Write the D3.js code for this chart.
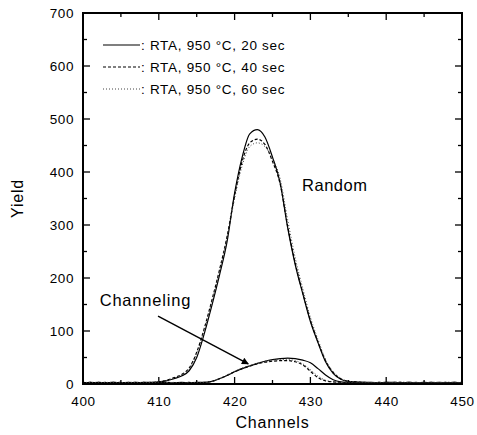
<!DOCTYPE html>
<html>
<head>
<meta charset="utf-8">
<script src="https://cdn.jsdelivr.net/npm/d3@7"></script>
<style>
  body { margin: 0; background: #fff; }
  text { font-family: "Liberation Sans", Arial, sans-serif; fill: #000; }
</style>
</head>
<body>
<div class="root"></div>
<script>
const width = 477;
const height = 435;
const margin = { top: 13, right: 15, bottom: 51, left: 83 };

const channels = [400, 401, 402, 403, 404, 405, 406, 407, 408, 409,
  410, 411, 412, 413, 414, 415, 416, 417, 418, 419,
  420, 421, 422, 423, 424, 425, 426, 427, 428, 429,
  430, 431, 432, 433, 434, 435, 436, 437, 438, 439,
  440, 441, 442, 443, 444, 445, 446, 447, 448, 449, 450];

// random spectra
const random20 = [3, 2, 3, 2, 3, 2, 3, 2, 3, 3,
  4, 6, 10, 15, 25, 50, 95, 148, 205, 268,
  360, 428, 472, 480, 466, 428, 380, 295, 225, 170,
  118, 78, 42, 20, 9, 5, 4, 3, 3, 2,
  3, 3, 2, 3, 2, 3, 2, 3, 2, 3, 2];
const random40 = [2, 3, 2, 3, 2, 3, 2, 3, 2, 3,
  4, 7, 12, 18, 30, 60, 105, 158, 215, 278,
  355, 420, 455, 462, 452, 420, 378, 298, 228, 172,
  120, 80, 44, 22, 10, 5, 4, 3, 2, 3,
  2, 3, 3, 2, 3, 2, 3, 2, 3, 2, 3];
const random60 = [3, 3, 2, 3, 3, 2, 3, 3, 2, 3,
  4, 7, 11, 17, 28, 58, 102, 155, 212, 275,
  350, 412, 448, 455, 448, 425, 388, 310, 238, 180,
  126, 84, 46, 23, 11, 5, 4, 3, 3, 3,
  2, 3, 2, 3, 3, 2, 3, 3, 2, 3, 3];

// channeling spectra
const chan20 = [2, 3, 2, 2, 3, 2, 2, 3, 2, 2,
  3, 2, 2, 3, 2, 3, 3, 5, 10, 16,
  23, 29, 34, 39, 43, 46, 48, 49, 48, 45,
  40, 29, 17, 8, 4, 3, 2, 3, 2, 2,
  3, 2, 2, 3, 2, 2, 3, 2, 2, 3, 2];
const chan40 = [2, 2, 3, 2, 2, 3, 2, 2, 3, 2,
  2, 3, 2, 2, 3, 2, 3, 5, 10, 16,
  23, 29, 34, 38, 41, 43, 44, 44, 42, 36,
  24, 12, 6, 4, 3, 2, 3, 2, 2, 3,
  2, 2, 3, 2, 2, 3, 2, 2, 3, 2, 2];
const chan60 = [3, 2, 2, 3, 2, 2, 3, 2, 2, 3,
  2, 2, 3, 2, 2, 3, 3, 5, 10, 17,
  24, 30, 35, 39, 43, 45, 46, 46, 44, 38,
  27, 15, 7, 4, 3, 3, 2, 2, 3, 2,
  2, 3, 2, 2, 3, 2, 2, 3, 2, 2, 3];

const xTicks = [400, 410, 420, 430, 440, 450];
const yTicks = [0, 100, 200, 300, 400, 500, 600, 700];
const legendLabels = [": RTA, 950 \u00B0C, 20 sec", ": RTA, 950 \u00B0C, 40 sec", ": RTA, 950 \u00B0C, 60 sec"];

const styles = [
  { dash: null, w: 1.2, color: "#000" },
  { dash: "3,2", w: 1.2, color: "#000" },
  { dash: "1,2", w: 1, color: "#444" },
];

const svg = d3.select(".root").append("svg")
  .attr("width", width)
  .attr("height", height);

const iw = width - margin.left - margin.right;
const ih = height - margin.top - margin.bottom;
const g = svg.append("g").attr("transform", `translate(${margin.left},${margin.top})`);

const x = d3.scaleLinear().domain([400, 450]).range([0, iw]);
const y = d3.scaleLinear().domain([0, 700]).range([ih, 0]);

// ticks, inward on all sides
const xMinor = d3.range(400, 451, 5);
const yMinor = d3.range(0, 701, 50);
xMinor.forEach((v) => {
  const len = v % 10 === 0 ? 7 : 4;
  g.append("line").attr("x1", x(v)).attr("x2", x(v)).attr("y1", ih).attr("y2", ih - len).attr("stroke", "#000").attr("stroke-width", 1.3);
  g.append("line").attr("x1", x(v)).attr("x2", x(v)).attr("y1", 0).attr("y2", len).attr("stroke", "#000").attr("stroke-width", 1.3);
});
yMinor.forEach((v) => {
  const len = v % 100 === 0 ? 7 : 4;
  g.append("line").attr("x1", 0).attr("x2", len).attr("y1", y(v)).attr("y2", y(v)).attr("stroke", "#000").attr("stroke-width", 1.3);
  g.append("line").attr("x1", iw).attr("x2", iw - len).attr("y1", y(v)).attr("y2", y(v)).attr("stroke", "#000").attr("stroke-width", 1.3);
});

g.append("g")
  .attr("transform", `translate(0,${ih})`)
  .call(d3.axisBottom(x).tickValues(xTicks).tickSize(0).tickPadding(12))
  .call((a) => a.select(".domain").remove())
  .selectAll("text").style("font-size", "13.5px").style("letter-spacing", "0.6px");

g.append("g")
  .call(d3.axisLeft(y).tickValues(yTicks).tickSize(0).tickPadding(9))
  .call((a) => a.select(".domain").remove())
  .selectAll("text").style("font-size", "13.5px").style("letter-spacing", "0.6px");

// curves
const line = (vals) => d3.line()
  .x((d, i) => x(channels[i]))
  .y((d) => y(d))
  .curve(d3.curveMonotoneX)(vals);

[[random20, chan20], [random40, chan40], [random60, chan60]].forEach((pair, k) => {
  pair.forEach((vals) => {
    g.append("path")
      .attr("d", line(vals))
      .attr("fill", "none")
      .attr("stroke", styles[k].color)
      .attr("stroke-width", styles[k].w)
      .attr("stroke-dasharray", styles[k].dash);
  });
});

// frame
g.append("rect")
  .attr("width", iw).attr("height", ih)
  .attr("fill", "none").attr("stroke", "#000").attr("stroke-width", 2);

// legend
legendLabels.forEach((t, k) => {
  const ly = 32 + k * 22;
  g.append("line")
    .attr("x1", 20).attr("x2", 57).attr("y1", ly).attr("y2", ly)
    .attr("stroke", styles[k].color).attr("stroke-width", styles[k].w)
    .attr("stroke-dasharray", styles[k].dash);
  g.append("text")
    .attr("x", 58).attr("y", ly + 5)
    .style("font-size", "13.5px").style("letter-spacing", "0.7px")
    .text(t);
});

// annotations
g.append("text").attr("x", x(428.9)).attr("y", y(365))
  .style("font-size", "16.5px").style("letter-spacing", "0.5px").text("Random");
g.append("text").attr("x", x(402.2)).attr("y", y(147))
  .style("font-size", "16.5px").style("letter-spacing", "0.8px").text("Channeling");

svg.append("defs").append("marker")
  .attr("id", "arrow").attr("viewBox", "0 0 10 10")
  .attr("refX", 9).attr("refY", 5)
  .attr("markerWidth", 9).attr("markerHeight", 7)
  .attr("markerUnits", "userSpaceOnUse")
  .attr("orient", "auto")
  .append("path").attr("d", "M0,0L10,5L0,10Z").attr("fill", "#000");

g.append("line")
  .attr("x1", x(409.9)).attr("y1", y(128))
  .attr("x2", x(421.8)).attr("y2", y(38))
  .attr("stroke", "#000").attr("stroke-width", 1.4)
  .attr("marker-end", "url(#arrow)");

// axis titles
svg.append("text")
  .attr("x", margin.left + iw / 2).attr("y", 428)
  .attr("text-anchor", "middle")
  .style("font-size", "16px").style("letter-spacing", "0.8px")
  .text("Channels");
svg.append("text")
  .attr("transform", `translate(23,${margin.top + ih / 2}) rotate(-90)`)
  .attr("text-anchor", "middle")
  .style("font-size", "16px").style("letter-spacing", "0.8px")
  .text("Yield");
</script>
</body>
</html>
